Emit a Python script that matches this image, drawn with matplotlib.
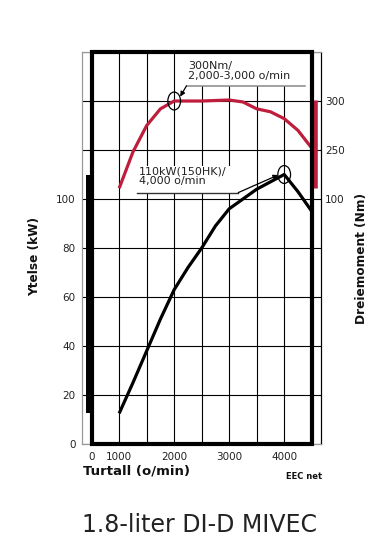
import matplotlib
matplotlib.use('Agg')
import matplotlib.pyplot as plt
from matplotlib.patches import Ellipse, Rectangle

# ---- data ----
rpm_power = [1000, 1250, 1500, 1750, 2000, 2250, 2500, 2750, 3000, 3250, 3500, 3750, 4000, 4250, 4500]
power_kw = [12.5, 25, 38, 51, 63, 72, 80, 89, 96, 100, 104, 107, 110, 103, 95]

rpm_torque = [1000, 1250, 1500, 1750, 2000, 2500, 3000, 3250, 3500, 3750, 4000, 4250, 4500]
torque_nm = [211, 248, 275, 292, 300, 300, 301, 299, 292, 289, 282, 270, 252]

x_tick_pos = [500, 1000, 2000, 3000, 4000]
x_tick_labels = ['0', '1000', '2000', '3000', '4000']
left_ticks = [0, 20, 40, 60, 80, 100]
right_tick_pos = [200, 250, 300]
right_tick_labels = ['100', '250', '300']

peak_torque_text = '300Nm/\n2,000-3,000 o/min'
peak_power_text = '110kW(150HK)/\n4,000 o/min'

RED = '#BE1E3C'
W, H = 368, 539

fig = plt.figure(figsize=(W / 100, H / 100), dpi=100)
ax = fig.add_axes([82 / W, 1 - 444 / H, (321 - 82) / W, (444 - 52) / H])
ax.set_xlim(324, 4669)
ax.set_ylim(0, 160)
ax2 = ax.twinx()
ax2.set_ylim(-50, 350)

# ticks / grid
ax.set_xticks(x_tick_pos)
ax.set_xticklabels(x_tick_labels)
ax.set_xticks(list(range(500, 4501, 500)), minor=True)
ax.set_yticks(left_ticks)
ax.set_yticks(list(range(0, 161, 20)), minor=True)
ax.grid(which='both', color='black', lw=0.8)
ax.tick_params(which='both', length=0, labelsize=7.5, labelcolor='#222222')
ax.tick_params(axis='y', pad=4.5)
ax.tick_params(axis='x', pad=5.5)
ax.set_axisbelow(True)

ax2.set_yticks(right_tick_pos)
ax2.set_yticklabels(right_tick_labels)
ax2.tick_params(length=0, labelsize=7.5, labelcolor='#222222', pad=3)

for a in (ax, ax2):
    for s in ('left', 'top', 'bottom'):
        a.spines[s].set_color('#999999')
        a.spines[s].set_linewidth(0.8)
    a.spines['right'].set_color('black')
    a.spines['right'].set_linewidth(0.8)

# white backgrounds behind annotation texts (hide grid)
ax.add_patch(Rectangle((2224, 146.2), 4382 - 2224, 160 - 146.2, facecolor='white',
                       edgecolor='none', zorder=1))
ax.add_patch(Rectangle((1322, 102.6), 3164 - 1322, 113.5 - 102.6, facecolor='white',
                       edgecolor='none', zorder=1))

# curves
ax.plot(rpm_power, power_kw, color='black', lw=2.3, solid_capstyle='butt', zorder=3)
ax2.plot(rpm_torque, torque_nm, color=RED, lw=2.3, solid_capstyle='butt', zorder=3)

# range bars
ax.vlines(455, min(power_kw), max(power_kw), color='black', lw=4.3, zorder=3)
ax2.vlines(4555, min(torque_nm), max(torque_nm), color=RED, lw=3.3, zorder=3)

# thick frame
frame = Rectangle((500, 0), 4000, 1, transform=ax2.get_xaxis_transform(),
                  fill=False, lw=3.0, edgecolor='black', clip_on=False, zorder=5)
ax2.add_patch(frame)

# markers (ellipses)
ax2.add_patch(Ellipse((rpm_torque[torque_nm.index(max(torque_nm[:5]))], max(torque_nm[:5])),
                      231, 18.3, fill=False, edgecolor='black', lw=0.9, zorder=6))
ax.add_patch(Ellipse((rpm_power[power_kw.index(max(power_kw))], max(power_kw)),
                     231, 7.3, fill=False, edgecolor='black', lw=0.9, zorder=6))

# annotation 1 (torque)
ax.plot([2224, 4382], [146.2, 146.2], color='#888888', lw=1.1, zorder=4)
ax.annotate('', xy=(2109, 141.8), xytext=(2224, 146.2),
            arrowprops=dict(arrowstyle='-|>', color='black', lw=0.9, mutation_scale=7,
                            shrinkA=0, shrinkB=0), zorder=6)
ax.text(2249, 148.2, peak_torque_text, fontsize=8, ha='left', va='bottom',
        linespacing=1.0, color='#222222', zorder=6)

# annotation 2 (power)
ax.plot([1322, 3164], [102.6, 102.6], color='#333333', lw=1.0, zorder=4)
ax.annotate('', xy=(3891, 109.8), xytext=(3164, 102.6),
            arrowprops=dict(arrowstyle='-|>', color='black', lw=0.9, mutation_scale=7,
                            shrinkA=0, shrinkB=0), zorder=6)
ax.text(1364, 105.3, peak_power_text, fontsize=8, ha='left', va='bottom',
        linespacing=1.0, color='#222222', zorder=6)

# labels
fig.text(83 / W, 1 - 478 / H, 'Turtall (o/min)', fontsize=9.5, fontweight='bold',
         ha='left', va='bottom', color='#111111')
fig.text(322 / W, 1 - 481 / H, 'EEC net', fontsize=6, fontweight='bold',
         ha='right', va='bottom', color='#111111')
fig.text(35 / W, 1 - 256 / H, 'Ytelse (kW)', fontsize=8.7, fontweight='bold',
         rotation=90, ha='center', va='center', color='#111111')
fig.text(361 / W, 1 - 258 / H, 'Dreiemoment (Nm)', fontsize=8.7, fontweight='bold',
         rotation=90, ha='center', va='center', color='#111111')
fig.text(200 / W, 1 - 525 / H, '1.8-liter DI-D MIVEC', fontsize=17, ha='center',
         va='center', color='#222222')

fig.savefig('out.png', dpi=100)
